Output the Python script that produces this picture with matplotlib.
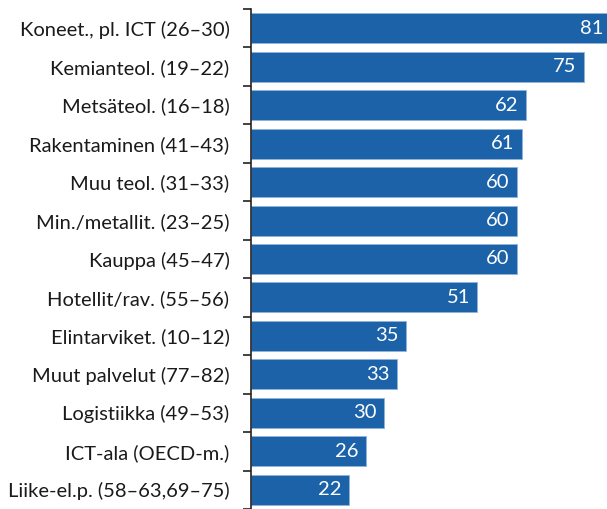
import numpy as np
import matplotlib
matplotlib.use("Agg")
from matplotlib import pyplot as plt

plt.rcParams['font.family'] = ['Lato', 'DejaVu Sans']

categories = ['Koneet., pl. ICT (26–30)', 'Kemianteol. (19–22)', 'Metsäteol. (16–18)',
              'Rakentaminen (41–43)', 'Muu teol. (31–33)', 'Min./metallit. (23–25)',
              'Kauppa (45–47)', 'Hotellit/rav. (55–56)', 'Elintarviket. (10–12)',
              'Muut palvelut (77–82)', 'Logistiikka (49–53)', 'ICT-ala (OECD-m.)',
              'Liike-el.p. (58–63,69–75)']
values = [81, 75, 62, 61, 60, 60, 60, 51, 35, 33, 30, 26, 22]

fig = plt.figure(figsize=(6.07, 5.09), dpi=100)
ax = fig.add_axes([251 / 607, 0.0, 1 - 251 / 607, 1 - 9 / 509])

y = np.arange(len(categories))
ax.barh(y, values, height=0.78, color='#1b62a8', edgecolor='#8fb3d9', linewidth=0.6)
for yi, v in zip(y, values):
    ax.text(v - 1.7, yi, str(v), color='white', ha='right', va='center', fontsize=14.5)

ax.set_ylim(len(categories) - 0.5, -0.5)
ax.set_xlim(0, 80.2)
ax.set_yticks(y)
ax.set_yticklabels(categories, fontsize=14.5, color='#1a1a1a')
ax.set_yticks(np.arange(len(categories) + 1) - 0.5, minor=True)
ax.tick_params(axis='y', which='major', length=0, pad=15.5)
ax.tick_params(axis='y', which='minor', length=6, width=1.2, color='#222222')
ax.set_xticks([])
for s in ['top', 'right', 'bottom']:
    ax.spines[s].set_visible(False)
ax.spines['left'].set_linewidth(1.2)
ax.spines['left'].set_color('#222222')

fig.savefig('out.png', dpi=100)
